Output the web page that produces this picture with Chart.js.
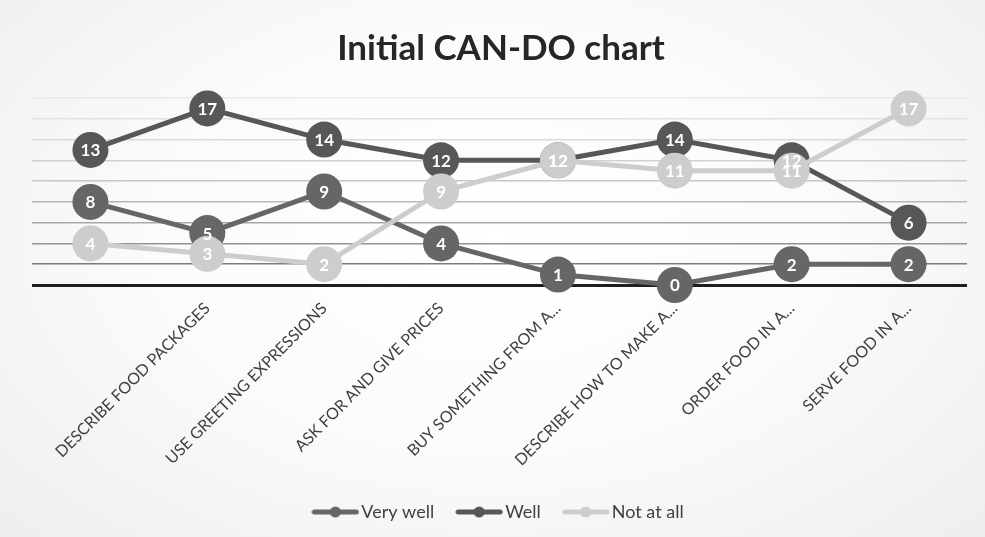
<!DOCTYPE html>
<html>
<head>
<meta charset="utf-8">
<script src="https://cdn.jsdelivr.net/npm/chart.js@4.4.1/dist/chart.umd.min.js"></script>
<style>
  html, body { margin: 0; padding: 0; }
  body {
    width: 985px; height: 537px; overflow: hidden;
    background: radial-gradient(ellipse 75% 85% at 50% 45%, #ffffff 0%, #fbfbfb 45%, #ececec 100%);
  }
  #wrap { position: relative; width: 985px; height: 537px; }
</style>
</head>
<body>
<div id="wrap"><canvas id="chart" width="985" height="537"></canvas></div>
<script>
// Skill categories (the first slot carries no label)
const categories = [
  "",
  "DESCRIBE FOOD PACKAGES",
  "USE GREETING EXPRESSIONS",
  "ASK FOR AND GIVE PRICES",
  "BUY SOMETHING FROM A...",
  "DESCRIBE HOW TO MAKE A...",
  "ORDER FOOD IN A...",
  "SERVE FOOD IN A..."
];

// Number of students per answer
const veryWell = [8, 5, 9, 4, 1, 0, 2, 2];
const well     = [13, 17, 14, 12, 12, 14, 12, 6];
const notAtAll = [4, 3, 2, 9, 12, 11, 11, 17];

const seriesNames = ["Very well", "Well", "Not at all"];

// Horizontal guide lines, from 0 up to 18 in steps of 2
const yTicks = [0, 2, 4, 6, 8, 10, 12, 14, 16, 18];
const gridShades = ["#1e1e1e", "#7c7c7c", "#939393", "#a8a8a8", "#b8b8b8", "#c6c6c6", "#d1d1d1", "#dadada", "#e2e2e2", "#eaeaea"];

const colors = ["#666666", "#575757", "#cdcdcd"];

// Legend swatch: a short thick line with a dot in the middle
function legendSwatch(color) {
  const c = document.createElement("canvas");
  c.width = 48; c.height = 14;
  const g = c.getContext("2d");
  g.strokeStyle = color; g.lineWidth = 5; g.lineCap = "round";
  g.beginPath(); g.moveTo(3, 7); g.lineTo(45, 7); g.stroke();
  g.fillStyle = color;
  g.beginPath(); g.arc(24, 7, 5.5, 0, Math.PI * 2); g.fill();
  return c;
}

// White value labels written on top of every marker
const valueLabels = {
  id: "valueLabels",
  afterDatasetsDraw(chart) {
    const ctx = chart.ctx;
    ctx.save();
    ctx.font = "bold 17px Lato, 'Open Sans', sans-serif";
    ctx.fillStyle = "#ffffff";
    ctx.textAlign = "center";
    ctx.textBaseline = "middle";
    chart.data.datasets.forEach((ds, i) => {
      const meta = chart.getDatasetMeta(i);
      meta.data.forEach((pt, j) => {
        ctx.fillText(String(ds.data[j]), pt.x, pt.y + 1);
      });
    });
    ctx.restore();
  }
};

const seriesData = [veryWell, well, notAtAll];
const drawOrder = [3, 2, 1];

const datasets = seriesData.map((values, i) => ({
  label: seriesNames[i],
  data: values,
  borderColor: colors[i],
  backgroundColor: colors[i],
  pointBackgroundColor: colors[i],
  pointBorderWidth: 0,
  pointRadius: 18,
  pointHoverRadius: 18,
  borderWidth: 5,
  tension: 0,
  clip: false,
  order: drawOrder[i]
}));

new Chart(document.getElementById("chart"), {
  type: "line",
  data: { labels: categories, datasets },
  plugins: [valueLabels],
  options: {
    responsive: false,
    animation: false,
    events: [],
    layout: { padding: { left: 32, right: 15, top: 0, bottom: 6 } },
    plugins: {
      title: {
        display: true,
        text: "Initial CAN-DO chart",
        color: "#262626",
        font: { family: "Lato, 'Open Sans', sans-serif", size: 35, weight: "bold" },
        padding: { top: 28, bottom: 28 }
      },
      legend: {
        position: "bottom",
        labels: {
          usePointStyle: true,
          pointStyleWidth: 34,
          padding: 28,
          color: "#404040",
          font: { family: "Lato, 'Open Sans', sans-serif", size: 18 },
          generateLabels(chart) {
            return chart.data.datasets.map((ds, i) => ({
              text: ds.label,
              pointStyle: legendSwatch(ds.borderColor),
              fillStyle: ds.borderColor,
              strokeStyle: ds.borderColor,
              lineWidth: 0,
              fontColor: "#404040",
              hidden: false,
              datasetIndex: i
            }));
          }
        }
      },
      tooltip: { enabled: false }
    },
    scales: {
      x: {
        offset: true,
        grid: { display: false },
        border: { display: false },
        afterFit(scale) { scale.height = 190; },
        ticks: {
          autoSkip: false,
          minRotation: 45,
          maxRotation: 45,
          padding: 6,
          color: "#404040",
          font: { family: "Lato, 'Open Sans', sans-serif", size: 16 }
        }
      },
      y: {
        min: 0,
        max: 18,
        afterBuildTicks(scale) { scale.ticks = yTicks.map(v => ({ value: v })); },
        ticks: { display: false },
        border: { display: false },
        grid: {
          drawTicks: false,
          color: (c) => gridShades[yTicks.indexOf(c.tick.value)] || "#dddddd",
          lineWidth: (c) => (c.tick.value === 0 ? 3 : 1.6)
        }
      }
    }
  }
});
</script>
</body>
</html>
